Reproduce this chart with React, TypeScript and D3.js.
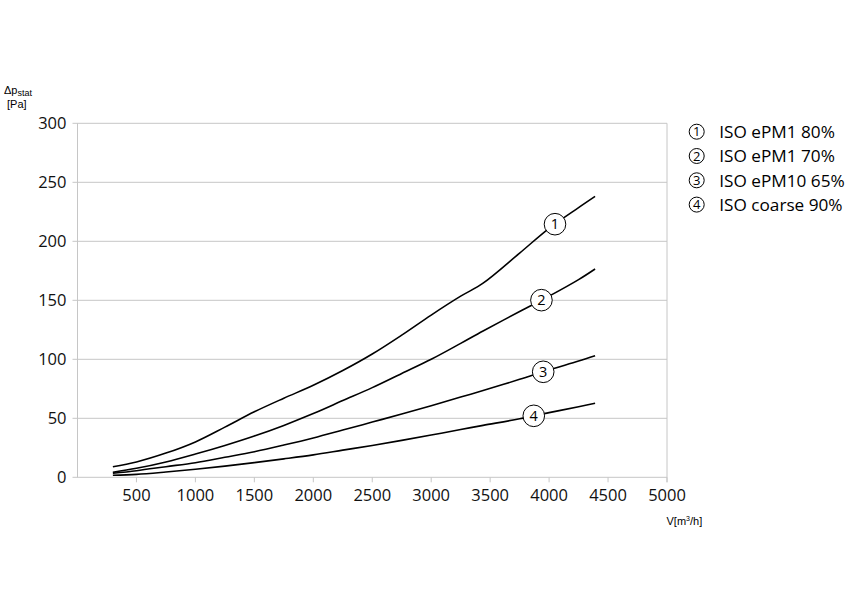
import React from "react";
import * as d3 from "d3";

const flow = [300, 500, 750, 1000, 1250, 1500, 1750, 2000, 2250, 2500, 2750, 3000, 3250, 3440, 3750, 4000, 4250, 4390];
const ePM1_80 = [9, 13, 20.5, 30, 42.5, 55.5, 67, 78, 90.5, 104.5, 120.5, 137.5, 153.5, 164.5, 190, 211, 228.5, 238];
const ePM1_70 = [4.2, 7.6, 13, 19.7, 27, 35, 44, 54, 65, 76, 88, 100, 113.5, 124, 140.5, 153.5, 167.5, 176.5];
const ePM10_65 = [3.4, 5.6, 9, 12.4, 17, 21.7, 27.3, 33.3, 40, 46.8, 53.6, 60.6, 68, 73.5, 83, 91, 98.5, 103];
const coarse_90 = [1.7, 2.5, 4.5, 6.8, 9.5, 12.4, 15.6, 19, 23, 27, 31.3, 35.8, 40.5, 44, 49.6, 54.8, 59.8, 62.7];

const seriesNames = ["ISO ePM1 80%", "ISO ePM1 70%", "ISO ePM10 65%", "ISO coarse 90%"];
const seriesValues = [ePM1_80, ePM1_70, ePM10_65, coarse_90];
const labelFlow = [4050, 3935, 3950, 3870];

const xTicks = [500, 1000, 1500, 2000, 2500, 3000, 3500, 4000, 4500, 5000];
const yTicks = [0, 50, 100, 150, 200, 250, 300];

export default function App() {
  const W = 850, H = 601;
  const x = d3.scaleLinear().domain([0, 5000]).range([77.5, 667]);
  const y = d3.scaleLinear().domain([0, 300]).range([477.3, 123.3]);
  const line = d3
    .line<[number, number]>()
    .x((d) => x(d[0]))
    .y((d) => y(d[1]))
    .curve(d3.curveCatmullRom.alpha(0.5));
  const font = "'Open Sans', sans-serif";
  const grid = "#c6c6c6";

  return (
    <svg width={W} height={H} style={{ position: "absolute", left: 0, top: 0 }} fontFamily={font}>
      <rect width={W} height={H} fill="#fff" />
      {yTicks.map((t) => (
        <g key={"y" + t}>
          <line x1={72.5} x2={x(5000)} y1={y(t)} y2={y(t)} stroke={grid} strokeWidth={1} />
          <text x={66.5} y={y(t)} dy="0.36em" textAnchor="end" fontSize={16.5} fill="#111">
            {t}
          </text>
        </g>
      ))}
      <line x1={x(0)} x2={x(0)} y1={y(300)} y2={y(0)} stroke={grid} />
      <line x1={x(5000)} x2={x(5000)} y1={y(300)} y2={y(0) + 5} stroke={grid} />
      {xTicks.map((t) => (
        <g key={"x" + t}>
          <line x1={x(t)} x2={x(t)} y1={y(0)} y2={y(0) + 5} stroke={grid} />
          <text x={x(t)} y={500.5} textAnchor="middle" fontSize={16.5} fill="#111">
            {t}
          </text>
        </g>
      ))}
      {seriesValues.map((vals, i) => {
        const pts = flow.map((f, j) => [f, vals[j]] as [number, number]);
        const lv = d3.scaleLinear().domain(flow).range(vals)(labelFlow[i]);
        return (
          <g key={"s" + i}>
            <path d={line(pts) || ""} fill="none" stroke="#000" strokeWidth={1.6} />
            <circle cx={x(labelFlow[i])} cy={y(lv)} r={10.8} fill="#fff" stroke="#000" strokeWidth={1} />
            <text x={x(labelFlow[i])} y={y(lv)} dy="0.36em" textAnchor="middle" fontSize={14.5} fill="#000">
              {i + 1}
            </text>
          </g>
        );
      })}
      {seriesNames.map((n, i) => (
        <g key={"l" + i} transform={`translate(696.7, ${131.7 + i * 24.3})`}>
          <circle r={7.5} fill="#fff" stroke="#000" strokeWidth={1} />
          <text dy="0.36em" textAnchor="middle" fontSize={13} fill="#000">
            {i + 1}
          </text>
          <text x={22.5} dy="0.36em" fontSize={17.2} fill="#000">
            {n}
          </text>
        </g>
      ))}
      <text x={4} y={94} fontFamily="'Liberation Sans', Arial, sans-serif" fontSize={11} fill="#000">
        Δp<tspan fontSize={9} dy={2}>stat</tspan>
      </text>
      <text x={7} y={108} fontFamily="'Liberation Sans', Arial, sans-serif" fontSize={11} fill="#000">
        [Pa]
      </text>
      <text x={666.5} y={525} fontFamily="'Liberation Sans', Arial, sans-serif" fontSize={11} fill="#000">
        V[m<tspan fontSize={7} dy={-4}>3</tspan>
        <tspan dy={4}>/h]</tspan>
      </text>
    </svg>
  );
}
